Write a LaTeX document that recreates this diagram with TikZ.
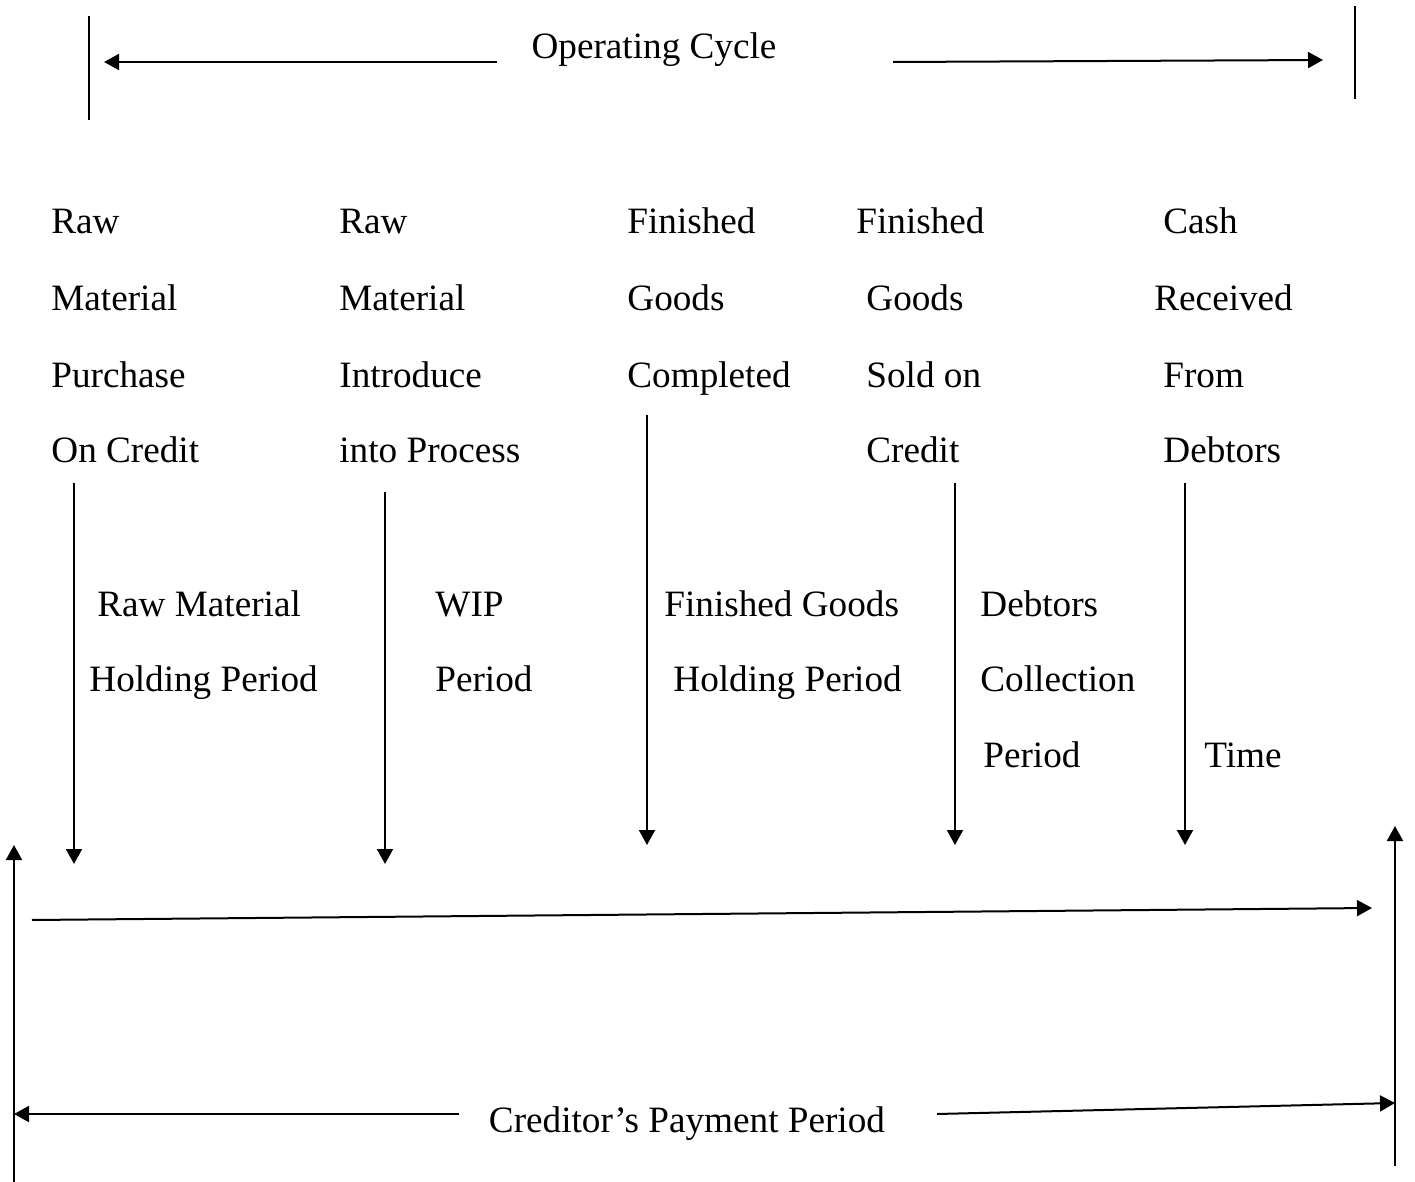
\documentclass[tikz,border=0pt]{standalone}
\usepackage{fontspec}
\setmainfont{Liberation Serif}
\usetikzlibrary{arrows.meta}

\begin{document}
\begin{tikzpicture}[x=0.5pt,y=-0.5pt, % one unit = one pixel of the sketch
    every node/.style={inner sep=0pt, anchor=base west, font=\fontsize{18.6}{22}\selectfont},
    bar/.style={line width=1pt},
    arr/.style={line width=1pt, -{Triangle[length=7.5pt,width=8pt]}}]
  \useasboundingbox (0,0) rectangle (1415,1182);

  % Operating cycle at the top
  \coordinate (ocLtop) at (89,16);   \coordinate (ocLbot) at (89,120);
  \coordinate (ocRtop) at (1355,6);  \coordinate (ocRbot) at (1355,99);
  \coordinate (ocLtip) at (104,62);  \coordinate (ocRtip) at (1323,60);
  \node[anchor=base] (opCycle) at (654,59) {Operating Cycle};
  \coordinate (ocLstart) at (497,62); \coordinate (ocRstart) at (893,62);
  \draw[bar] (ocLtop) -- (ocLbot);
  \draw[bar] (ocRtop) -- (ocRbot);
  \draw[arr] (ocLstart) -- (ocLtip);
  \draw[arr] (ocRstart) -- (ocRtip);

  % Events along the cycle
  \node (rmA) at (51,234) {Raw};
  \node (rmB) at (51,311) {Material};
  \node (rmC) at (51,387) {Purchase};
  \node (rmD) at (51,463) {On Credit};

  \node (ipA) at (339,234) {Raw};
  \node (ipB) at (339,311) {Material};
  \node (ipC) at (339,387) {Introduce};
  \node (ipD) at (339,463) {into Process};

  \node (fgA) at (627,234) {Finished};
  \node (fgB) at (627,311) {Goods};
  \node (fgC) at (627,387) {Completed};

  \node (scA) at (856,234) {Finished};
  \node (scB) at (866,311) {Goods};
  \node (scC) at (866,387) {Sold on};
  \node (scD) at (866,463) {Credit};

  \node (crA) at (1163,234) {Cash};
  \node (crB) at (1154,311) {Received};
  \node (crC) at (1163,387) {From};
  \node (crD) at (1163,463) {Debtors};

  % Periods between the events
  \node (rmhA) at (97,616) {Raw Material};
  \node (rmhB) at (89,691) {Holding Period};
  \node (wipA) at (435,616) {WIP};
  \node (wipB) at (435,691) {Period};
  \node (fghA) at (664,616) {Finished Goods};
  \node (fghB) at (673,691) {Holding Period};
  \node (dcpA) at (980,616) {Debtors};
  \node (dcpB) at (980,691) {Collection};
  \node (dcpC) at (983,767) {Period};
  \node (time) at (1204,767) {Time};

  % Drop lines to the time axis
  \coordinate (d1s) at (74,483);   \coordinate (d1e) at (74,864);
  \coordinate (d2s) at (385,492);  \coordinate (d2e) at (385,864);
  \coordinate (d3s) at (647,415);  \coordinate (d3e) at (647,845);
  \coordinate (d4s) at (955,483);  \coordinate (d4e) at (955,845);
  \coordinate (d5s) at (1185,483); \coordinate (d5e) at (1185,845);
  \draw[arr] (d1s) -- (d1e);
  \draw[arr] (d2s) -- (d2e);
  \draw[arr] (d3s) -- (d3e);
  \draw[arr] (d4s) -- (d4e);
  \draw[arr] (d5s) -- (d5e);

  % Time axis
  \coordinate (tStart) at (32,920); \coordinate (tEnd) at (1372,908);
  \draw[arr] (tStart) -- (tEnd);

  % Creditor's payment period at the bottom
  \coordinate (cpLbot) at (14,1182);  \coordinate (cpLtop) at (14,845);
  \coordinate (cpRbot) at (1395,1166); \coordinate (cpRtop) at (1395,826);
  \draw[arr] (cpLbot) -- (cpLtop);
  \draw[arr] (cpRbot) -- (cpRtop);
  \node[anchor=base] (credPay) at (687,1132) {Creditor’s Payment Period};
  \coordinate (cpLstart) at (459,1114); \coordinate (cpLtip) at (14,1114);
  \coordinate (cpRstart) at (937,1114); \coordinate (cpRtip) at (1395,1103);
  \draw[arr] (cpLstart) -- (cpLtip);
  \draw[arr] (cpRstart) -- (cpRtip);
\end{tikzpicture}
\end{document}
